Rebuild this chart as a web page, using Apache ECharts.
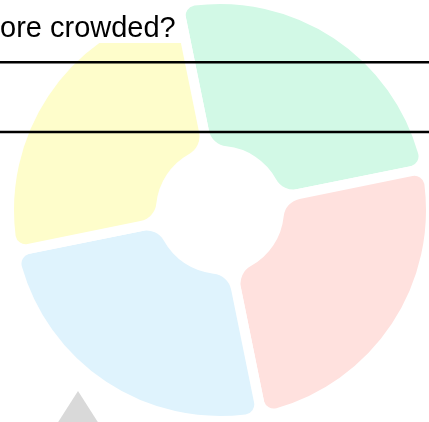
<!DOCTYPE html>
<html><head><meta charset="utf-8">
<script src="https://cdn.jsdelivr.net/npm/echarts@6/dist/echarts.min.js"></script>
<style>html,body{margin:0;padding:0;background:#fff}#c{width:429px;height:422px}</style>
</head><body><div id="c"></div>
<script>
const categories = ['Area A', 'Area B', 'Area C', 'Area D'];
const values = [25, 25, 25, 25];
const colors = ['#d2f9e6', '#ffe1de', '#dff3fd', '#fefdcb'];
const titleText = 'ore crowded?';

const chart = echarts.init(document.getElementById('c'), null, {renderer: 'canvas'});
chart.setOption({
  animation: false,
  title: {
    text: titleText, left: 0, top: 0,
    padding: [14, 6, 0, 0],
    backgroundColor: '#fff',
    textStyle: {fontFamily: 'Liberation Sans, Arial, sans-serif', fontSize: 29, lineHeight: 29, fontWeight: 'normal', color: '#000'}
  },
  series: [{
    type: 'pie',
    center: [220, 210],
    radius: [59, 211],
    startAngle: 101.5,
    clockwise: true,
    z: 1,
    label: {show: false},
    labelLine: {show: false},
    itemStyle: {borderRadius: [25, 15], borderColor: '#fff', borderWidth: 10},
    emphasis: {disabled: true},
    data: categories.map((c, i) => ({name: c, value: values[i], itemStyle: {color: colors[i]}}))
  }],
  graphic: [
    {type: 'line', z: 100, shape: {x1: 0, y1: 62.3, x2: 429, y2: 62.3}, style: {stroke: '#000', lineWidth: 2.5}},
    {type: 'line', z: 100, shape: {x1: 0, y1: 132, x2: 429, y2: 132}, style: {stroke: '#000', lineWidth: 2.5}},
    {type: 'polygon', z: 100, shape: {points: [[78, 391], [55, 427], [101, 427]]}, style: {fill: '#d9d9d9'}}
  ]
});
</script></body></html>
